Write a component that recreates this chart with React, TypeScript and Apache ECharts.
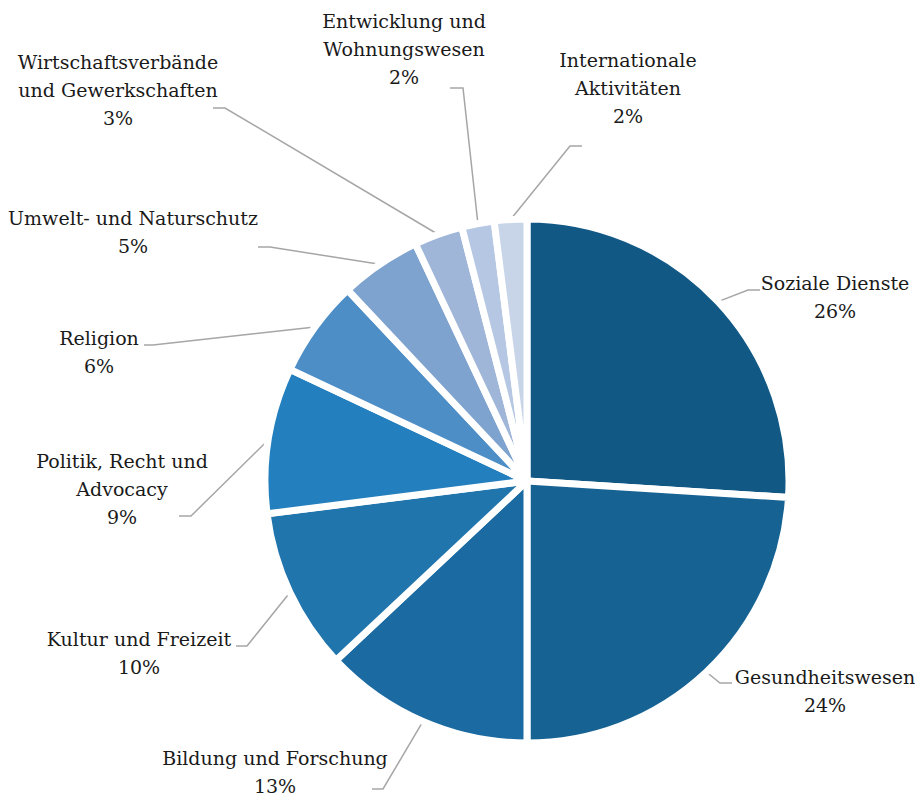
import React, { useEffect, useRef } from "react";
import * as echarts from "echarts";

// Data
const categories = [
  "Soziale Dienste",
  "Gesundheitswesen",
  "Bildung und Forschung",
  "Kultur und Freizeit",
  "Politik, Recht und\nAdvocacy",
  "Religion",
  "Umwelt- und Naturschutz",
  "Wirtschaftsverbände\nund Gewerkschaften",
  "Entwicklung und\nWohnungswesen",
  "Internationale\nAktivitäten",
];
const values = [26, 24, 13, 10, 9, 6, 5, 3, 2, 2];

// Styles / layout
const colors = [
  "#115885",
  "#156293",
  "#1b6aa2",
  "#2175ad",
  "#237fbd",
  "#4d8ec6",
  "#7ea3cf",
  "#9fb6d8",
  "#b5c7e2",
  "#c8d5e8",
];
const labelCenters: number[][] = [
  [835, 297],
  [825, 691],
  [275, 772],
  [139, 653],
  [122, 489],
  [99, 352],
  [133, 232],
  [118, 90],
  [404, 49],
  [628, 88],
];
const lineBends: number[][][] = [
  [[748, 290], [760, 290]],
  [[720, 683], [732, 683]],
  [[383, 789], [372, 789]],
  [[247, 646], [236, 646]],
  [[191, 516], [179, 516]],
  [[153, 345], [144, 345]],
  [[270, 247], [258, 247]],
  [[225, 108], [213, 108]],
  [[463, 88], [450, 88]],
  [[570, 146], [582, 146]],
];

export default function App() {
  const ref = useRef<HTMLDivElement>(null);
  useEffect(() => {
    if (!ref.current) return;
    const chart = echarts.init(ref.current, null, { renderer: "svg" });
    chart.setOption({
      animation: false,
      backgroundColor: "#ffffff",
      textStyle: { fontFamily: "DejaVu Serif" },
      series: [
        {
          type: "pie",
          center: [527, 481],
          radius: 262,
          startAngle: 90,
          clockwise: true,
          avoidLabelOverlap: false,
          emphasis: { disabled: true },
          itemStyle: { borderColor: "#ffffff", borderWidth: 7 },
          label: {
            show: true,
            position: "outer",
            fontFamily: "DejaVu Serif",
            fontSize: 19,
            lineHeight: 28,
            color: "#1a1a1a",
            align: "center",
            formatter: (p: any) => `${p.name}\n${Math.round(p.percent)}%`,
          },
          labelLine: {
            show: true,
            lineStyle: { color: "#a6a6a6", width: 1.5 },
          },
          labelLayout: (p: any) => {
            const i = p.dataIndex;
            const start = p.labelLinePoints ? p.labelLinePoints[0] : lineBends[i][0];
            return {
              x: labelCenters[i][0],
              y: labelCenters[i][1],
              align: "center",
              verticalAlign: "middle",
              labelLinePoints: [start, lineBends[i][0], lineBends[i][1]],
            };
          },
          data: categories.map((name, i) => ({
            name,
            value: values[i],
            itemStyle: { color: colors[i] },
          })),
        },
      ],
    });
    return () => chart.dispose();
  }, []);
  return (
    <div
      ref={ref}
      style={{ position: "fixed", left: 0, top: 0, width: 915, height: 799 }}
    />
  );
}
